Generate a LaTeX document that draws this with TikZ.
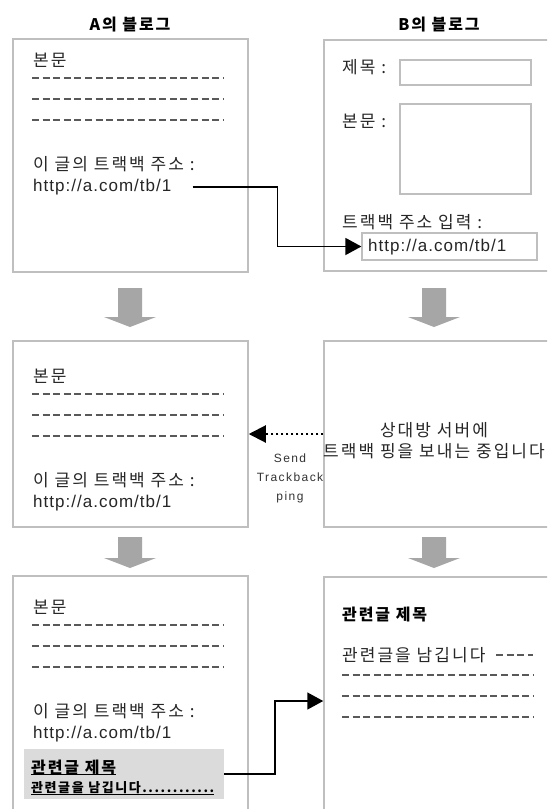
\documentclass[tikz,border=0pt]{standalone}
\usepackage{fontspec}
\setmainfont{Liberation Sans}
\newfontfamily\kr[LetterSpace=12]{Noto Sans CJK KR}
\newfontfamily\lat[LetterSpace=6]{Liberation Sans}
\usetikzlibrary{positioning,arrows.meta}

\tikzset{
  panel/.style={draw=black!25, line width=1.5pt, inner sep=0pt},
  field/.style={draw=black!25, line width=1.2pt, inner sep=0pt},
  txt/.style={anchor=west, inner sep=0pt, text=black!85, font=\fontsize{17}{21}\kr},
  addr/.style={anchor=west, inner sep=0pt, text=black!85, font=\fontsize{17}{20}\lat},
  hd/.style={inner sep=0pt, font=\fontsize{16}{20}\kr\bfseries},
  dline/.style={draw=black!65, line width=1.3pt, dash pattern=on 7pt off 3.6pt},
  link/.style={line width=1.5pt, -{Triangle[length=16pt,width=17pt]}},
  ping/.style={line width=2pt, dash pattern=on 2pt off 3pt, -{Triangle[length=17pt,width=17pt]}},
  flow/.style={fill=black!35},
}

\begin{document}
\begin{tikzpicture}[x=1pt,y=-1pt]
\useasboundingbox (0,0) rectangle (547,809);
\clip (0,0) rectangle (547,809);
\fill[white] (0,0) rectangle (547,809);

\node[hd] (ta) at (130,25) {A의 블로그};
\node[hd] (tb) at (439,25) {B의 블로그};

\node[panel, minimum width=235pt, minimum height=233pt] (pa1) at (130.5,155.5) {};
\node[panel, minimum width=235pt, minimum height=186pt] (pa2) at (130.5,434) {};
\node[panel, minimum width=235pt, minimum height=324pt] (pa3) at (130.5,738) {};
\node[panel, minimum width=276pt, minimum height=231pt] (pb1) at (462,155.5) {};
\node[panel, minimum width=276pt, minimum height=186pt] (pb2) at (462,434) {};
\node[panel, minimum width=276pt, minimum height=323pt] (pb3) at (462,738.5) {};

\foreach \x in {130,434}
  \foreach \ya/\yb in {288/327,537/568}
    \fill[flow] (\x-12,\ya) -- (\x+12,\ya) -- (\x+12,\yb-10) -- (\x+26,\yb-10)
      -- (\x,\yb) -- (\x-26,\yb-10) -- (\x-12,\yb-10) -- cycle;

\foreach \n/\y in {1/60,2/376,3/607} {
  \node[txt] (h\n) at (33,\y) {본문};
  \foreach \d in {18,39,60}
    \draw[dline] (32,\y+\d) -- (223,\y+\d);
  \node[txt] (t\n) at (33,\y+104) {이 글의 트랙백 주소 :};
  \node[addr] (u\n) at (33,\y+127) {http://a.com/tb/1};
}

\node[txt] (lt) at (342,67) {제목 :};
\node[field, minimum width=131pt, minimum height=25pt] (ft) at (465.5,72.5) {};
\node[txt] (lb) at (342,121) {본문 :};
\node[field, minimum width=131pt, minimum height=90pt] (fb) at (465.5,149) {};
\node[txt] (lu) at (342,222) {트랙백 주소 입력 :};
\node[field, minimum width=175pt, minimum height=27pt] (fu) at (449.5,246.5) {};
\node[addr] (bu) at (368,247) {http://a.com/tb/1};
\draw[link] ([xshift=21pt]u1.east) -| ([xshift=-84pt]fu.west) -- (fu.west);

\node[txt, anchor=center, align=center] (msg) at (434,441) {상대방 서버에\\트랙백 핑을 보내는 중입니다};
\draw[ping] (pb2.west) -- (pa2.east);
\node[align=center, inner sep=0pt, text=black!80, font=\fontsize{12}{19}\lat\addfontfeature{LetterSpace=12}] (send) at (290,478) {Send\\Trackback\\ping};

\node[hd, anchor=west] (rt) at (342,614) {관련글 제목};
\node[txt] (rm) at (342,655) {관련글을 남깁니다};
\draw[dline] (496,655) -- (533,655);
\foreach \y in {675,696,717}
  \draw[dline] (342,\y) -- (533,\y);

\node[fill=black!14, minimum width=200pt, minimum height=50pt] (rel) at (124,774) {};
\node[hd, anchor=west] (rt2) at (31,767) {관련글 제목};
\node[hd, anchor=west, font=\fontsize{13}{15}\kr\bfseries] (rs) at (31,788) {관련글을 남깁니다............};
\draw[line width=1.2pt] (rt2.south west) -- (rt2.south east);
\draw[line width=1pt] (rs.south west) -- (rs.south east);
\coordinate (k2) at (275,701);
\draw[link] (rel.east) -| (k2) -- (k2 -| pb3.west);
\end{tikzpicture}
\end{document}
